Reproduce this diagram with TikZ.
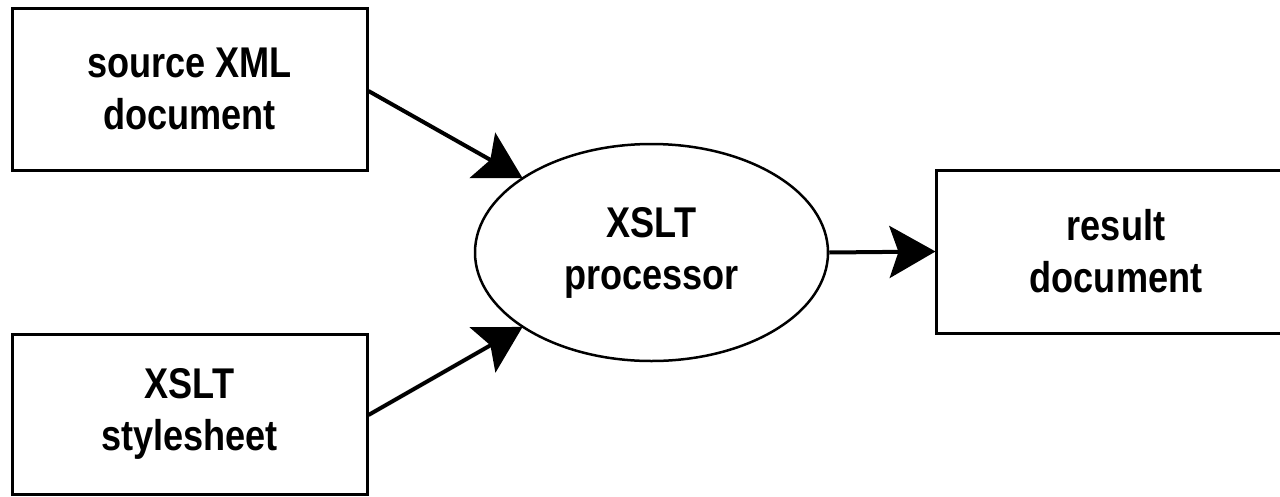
\documentclass[tikz,border=0pt]{standalone}
\usepackage{fontspec}
\setmainfont{Liberation Sans}[BoldFont={* Bold},FakeStretch=0.84]
\usetikzlibrary{arrows.meta,shapes.geometric}
\tikzset{
  box/.style={draw, line width=3pt, rectangle, align=center, inner sep=0pt,
    font=\bfseries\fontsize{43}{52}\selectfont},
  proc/.style={draw, line width=2.5pt, ellipse, align=center, inner sep=0pt,
    font=\bfseries\fontsize{43}{52}\selectfont},
  conn/.style={line width=4pt, -{Stealth[length=46pt,width=52pt,inset=9pt]}, shorten >=-1pt}
}
\begin{document}
\begin{tikzpicture}[x=1pt,y=-1pt]
\useasboundingbox (0,0) rectangle (1280,496);
\node[box, minimum width=355pt, minimum height=162pt] (src) at (189.5,89) {source XML\\document};
\node[box, minimum width=355pt, minimum height=160pt] (xsl) at (189.5,414) {XSLT\\stylesheet};
\node[proc, minimum width=353pt, minimum height=217pt] (proc) at (651.5,252.5) {XSLT\\processor};
\node[box, minimum width=360pt, minimum height=163pt] (res) at (1116,251.5) {result\\document};
\draw[conn] (src.east |- 0,91) -- (proc.150);
\draw[conn] (xsl.east |- 0,415) -- (proc.210);
\draw[conn] (proc.east) -- (res.west);
\end{tikzpicture}
\end{document}
